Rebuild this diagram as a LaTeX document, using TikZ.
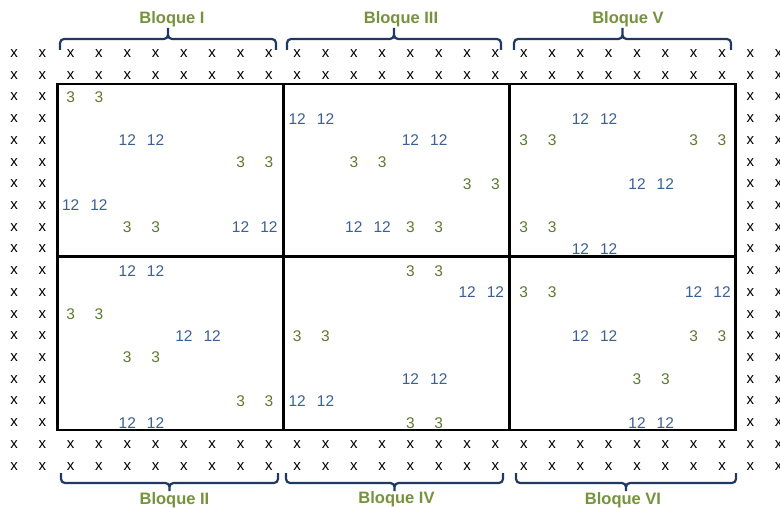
\documentclass[tikz,border=0pt]{standalone}
\usepackage{fontspec}
\setmainfont{Liberation Sans}
\usepackage{xcolor}
\usepackage{tikz}
\usetikzlibrary{positioning}
\definecolor{olivenum}{HTML}{5E7A2E}
\definecolor{bluenum}{HTML}{3B6096}
\definecolor{olivelabel}{HTML}{76923C}
\definecolor{navybrace}{HTML}{1F3864}
\tikzset{
    % Cell styles
    cell/.style={inner sep=0pt, anchor=center},
    crossmark/.style={cell, font=\fontsize{15}{18}\selectfont},
    n3/.style={cell, font=\fontsize{15.5}{18}\selectfont, text=olivenum},
    n12/.style={cell, font=\fontsize{15.5}{18}\selectfont, text=bluenum},
    % Frame and brace styles
    block frame/.style={draw, line width=2.8pt},
    bracket line/.style={draw=navybrace, line width=2.2pt, rounded corners=4pt},
    block label/.style={font=\bfseries\fontsize{16.5}{18}\selectfont, text=olivelabel, anchor=base},
}

\begin{document}
\begin{tikzpicture}[x=1pt, y=-1pt]
    % Canvas
    \useasboundingbox[fill=white] (0,0) rectangle (780,508);

    % Border of crosses
    \foreach \r in {0,...,19}
        \foreach \c in {0,1,26,27}
            \node[crossmark] (x-\r-\c) at ({14+28.32*\c},{53.5+21.72*\r}) {x};
    \foreach \r in {0,1,18,19}
        \foreach \c in {2,...,25}
            \node[crossmark] (x-\r-\c) at ({14+28.32*\c},{53.5+21.72*\r}) {x};

    % Pairs of values inside the blocks (row/first column/value)
    \foreach \r/\c/\v in {2/2/3, 4/4/12, 5/8/3, 7/2/12, 8/4/3, 8/8/12,
                          3/10/12, 4/14/12, 5/12/3, 6/16/3, 8/12/12, 8/14/3,
                          3/20/12, 4/18/3, 4/24/3, 6/22/12, 8/18/3, 9/20/12,
                          10/4/12, 12/2/3, 13/6/12, 14/4/3, 16/8/3, 17/4/12,
                          10/14/3, 11/16/12, 13/10/3, 15/14/12, 16/10/12, 17/14/3,
                          11/18/3, 11/24/12, 13/20/12, 13/24/3, 15/22/3, 17/22/12} {
        \pgfmathtruncatemacro{\cb}{\c+1}
        \node[n\v] (n-\r-\c) at ({14+28.32*\c},{53.5+21.72*\r}) {\v};
        \node[n\v] (n-\r-\cb) at ({14+28.32*\cb},{53.5+21.72*\r}) {\v};
    }

    % Block frames
    \coordinate (fa) at (57.2,84);
    \coordinate (fb) at (735.3,430);
    \coordinate (v1t) at (283.2,84);
    \coordinate (v1b) at (283.2,430);
    \coordinate (v2t) at (509.3,84);
    \coordinate (v2b) at (509.3,430);
    \coordinate (hl) at (57.2,256.2);
    \coordinate (hr) at (735.3,256.2);
    \draw[block frame] (fa) rectangle (fb);
    \draw[block frame] (v1t) -- (v1b);
    \draw[block frame] (v2t) -- (v2b);
    \draw[block frame] (hl) -- (hr);

    % Braces over and under the blocks
    \foreach \id/\xa/\xb/\ya/\yb/\yc in {1/60/276/50/39/28, 3/287/501/50/39/28,
                                         5/514/731/50/39/28, 2/61/278/473/483/491,
                                         4/286/503/473/483/491, 6/516/736/473/483/491} {
        \coordinate (br\id a) at (\xa,\ya);
        \coordinate (br\id b) at (\xb,\ya);
        \coordinate (br\id m) at ({(\xa+\xb)/2},\yb);
        \coordinate (br\id t) at ({(\xa+\xb)/2},\yc);
        \draw[bracket line] (br\id a) |- (br\id m) -- (br\id t)
                            (br\id b) |- (br\id m) -- (br\id t);
    }

    % Labels
    \node[block label] (bloque1) at (172,24) {Bloque I};
    \node[block label] (bloque3) at (401,23.3) {Bloque III};
    \node[block label] (bloque5) at (628,24) {Bloque V};
    \node[block label] (bloque2) at (174.5,504) {Bloque II};
    \node[block label] (bloque4) at (396.5,503.5) {Bloque IV};
    \node[block label] (bloque6) at (623,504) {Bloque VI};
\end{tikzpicture}
\end{document}
